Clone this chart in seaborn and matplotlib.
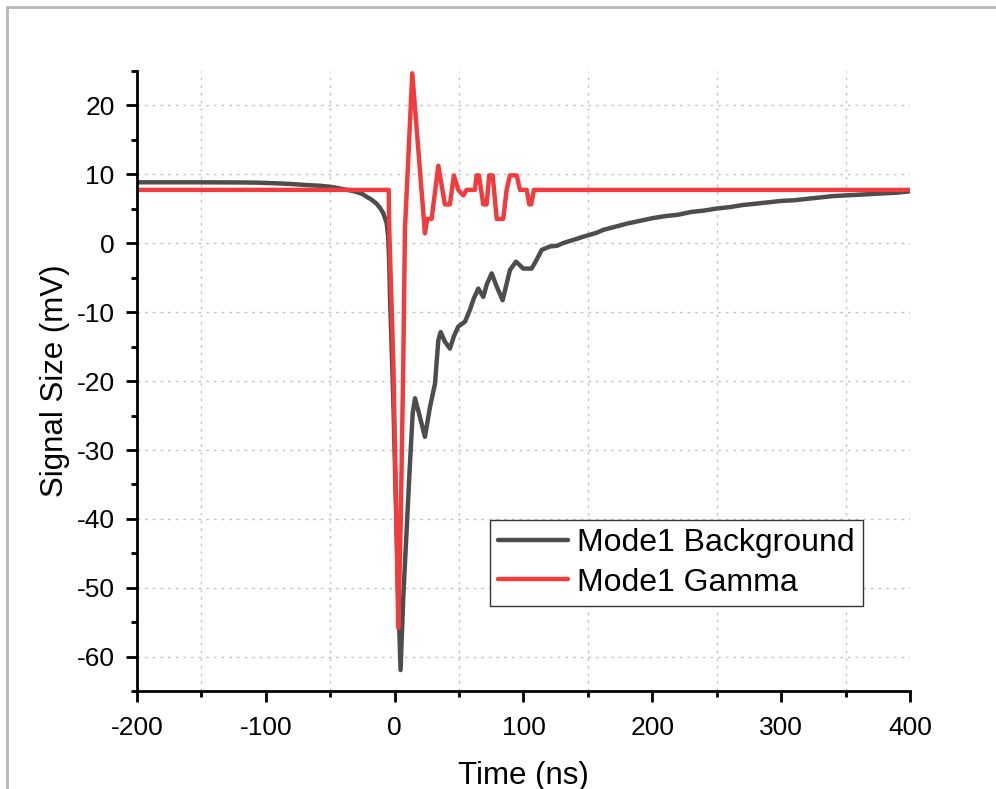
import numpy as np
import pandas as pd
import matplotlib
matplotlib.use("Agg")
import matplotlib.pyplot as plt
from matplotlib.lines import Line2D
from matplotlib.ticker import MultipleLocator
import seaborn as sns

# Mode1 Background waveform (time in ns, signal in mV)
bg_time = [-200, -150, -120, -107, -91, -80, -68, -58, -50, -45, -40, -34, -29.5, -25,
           -21.7, -18, -14, -11, -8.8, -6.2, -5, -4.2, -3.6, -1.1, 1.5, 2.8, 4.6, 6.7,
           9.3, 11.9, 14.0, 15.8, 19.6, 23.5, 27.4, 31.3, 33.9, 35.7, 39, 42.9, 46, 49.4,
           54.6, 58.4, 61.5, 64.9, 68.8, 71.5, 75.3, 79.2, 83.8, 89.5, 94.2, 99.8, 106.3,
           110, 114.1, 120.5, 126, 130.9, 136, 141.3, 146, 151.6, 157, 161.9, 170, 180,
           190, 200, 210, 220, 230, 240, 250, 260, 270, 280, 290, 300, 310, 320, 330,
           340, 350, 360, 370, 380, 390, 400]
bg_signal = [8.8, 8.8, 8.78, 8.75, 8.65, 8.55, 8.4, 8.3, 8.15, 8.0, 7.8, 7.6, 7.4, 7.1,
             6.7, 6.3, 5.7, 5.0, 4.3, 2.9, 0.9, -3.0, -7.8, -22.3, -41.6, -51.3, -61.9, -51.3,
             -41.6, -31.9, -24.7, -22.5, -25.2, -28.1, -23.8, -20.4, -14.1, -12.9, -14.3, -15.3, -13.5, -12.1,
             -11.4, -9.7, -8.0, -6.6, -7.8, -6.0, -4.4, -6.3, -8.3, -3.9, -2.7, -3.7, -3.7,
             -2.5, -1.0, -0.5, -0.4, 0.0, 0.3, 0.6, 0.9, 1.2, 1.5, 1.9, 2.3, 2.8,
             3.2, 3.6, 3.9, 4.1, 4.5, 4.7, 5.0, 5.2, 5.5, 5.7, 5.9, 6.1, 6.2, 6.4, 6.6,
             6.8, 6.9, 7.0, 7.1, 7.2, 7.3, 7.5]

# Mode1 Gamma waveform (time in ns, signal in mV)
gm_time = [-200, -4.6, -4.2, -1.0, 1.5, 2.8, 4.6, 6.7, 8.0, 13.7, 23.5, 25.3, 28.7, 33.9,
           39.0, 42.9, 46.0, 49.4, 53.3, 55.9, 62.3, 63.6, 65.4, 68.8, 71.4, 73.4, 76.1,
           79.2, 84.3, 86.9, 89.5, 94.7, 97.3, 102.5, 104.5, 106.0, 108.1, 400]
gm_signal = [7.7, 7.7, 2.0, -17.4, -41.6, -55.8, -41.6, -17.4, 2.0, 24.6, 1.4, 3.5, 3.5, 11.2,
             5.6, 5.6, 9.8, 7.7, 6.9, 7.7, 7.7, 9.8, 9.8, 5.6, 5.6, 9.8, 9.8,
             3.5, 3.5, 7.7, 9.8, 9.8, 7.7, 7.7, 5.6, 5.6, 7.7, 7.7]

series_names = ["Mode1 Background", "Mode1 Gamma"]
series_colors = ["#4d4d4d", "#f03c3c"]

df = pd.concat([
    pd.DataFrame({"Time": bg_time, "Signal": bg_signal, "Series": series_names[0]}),
    pd.DataFrame({"Time": gm_time, "Signal": gm_signal, "Series": series_names[1]}),
], ignore_index=True)

sns.set_style("ticks")
plt.rcParams["font.family"] = ["Liberation Sans", "DejaVu Sans"]
plt.rcParams["axes.unicode_minus"] = False
for key in ["text.color", "axes.labelcolor", "xtick.color", "ytick.color"]:
    plt.rcParams[key] = "black"

fig = plt.figure(figsize=(9.96, 7.89), dpi=100)
ax = fig.add_axes([0.1375, 0.1236, 0.7762, 0.787])

sns.lineplot(data=df, x="Time", y="Signal", hue="Series", hue_order=series_names,
             palette=series_colors, estimator=None, sort=False, linewidth=3.2,
             legend=False, ax=ax)
for ln in ax.get_lines():
    ln.set_solid_joinstyle("round")
    ln.set_solid_capstyle("round")

ax.set_xlim(-200, 400)
ax.set_ylim(-65, 25)
ax.xaxis.set_major_locator(MultipleLocator(100))
ax.xaxis.set_minor_locator(MultipleLocator(50))
ax.yaxis.set_major_locator(MultipleLocator(10))
ax.yaxis.set_minor_locator(MultipleLocator(5))

# dotted grid: horizontal at major y ticks, vertical between major x ticks
grid_kw = dict(color="#c4c4c4", linewidth=1.0, linestyle=(0, (2, 3.5)), zorder=0)
for yv in range(-60, 21, 10):
    ax.axhline(yv, **grid_kw)
for xv in range(-150, 400, 100):
    ax.axvline(xv, **grid_kw)

for side in ["top", "right"]:
    ax.spines[side].set_visible(False)
for side in ["left", "bottom"]:
    ax.spines[side].set_linewidth(2.0)
    ax.spines[side].set_color("black")

ax.tick_params(axis="both", which="major", direction="out", length=8, width=2.0,
               labelsize=19, color="black")
ax.tick_params(axis="x", which="major", pad=9.5)
ax.tick_params(axis="y", which="major", pad=8)
ax.tick_params(axis="both", which="minor", direction="out", length=4.5, width=2.0,
               color="black")

ax.set_xlabel("Time (ns)", fontsize=22.5, labelpad=15)
ax.set_ylabel("Signal Size (mV)", fontsize=22.5)
ax.yaxis.set_label_coords(-0.086, 0.5)

handles = [Line2D([], [], color=c, linewidth=3.2, solid_capstyle="round") for c in series_colors]
leg = ax.legend(handles, series_names, loc="upper left",
                bbox_to_anchor=(490 / 996, 1 - 520 / 789), bbox_transform=fig.transFigure,
                fontsize=23, frameon=True, fancybox=False, framealpha=1,
                edgecolor="#333333", borderpad=0.25, handlelength=2.2,
                handletextpad=0.28, labelspacing=0.3, borderaxespad=0)
leg.get_frame().set_linewidth(1.0)

# page frame at the left and top edges
frame_kw = dict(color="#b5b5b5", linewidth=2.0, transform=fig.transFigure)
fig.add_artist(Line2D([7 / 996, 7 / 996], [0, 1 - 7 / 789], **frame_kw))
fig.add_artist(Line2D([7 / 996, 1], [1 - 7 / 789, 1 - 7 / 789], **frame_kw))

fig.savefig("out.png", dpi=100)
